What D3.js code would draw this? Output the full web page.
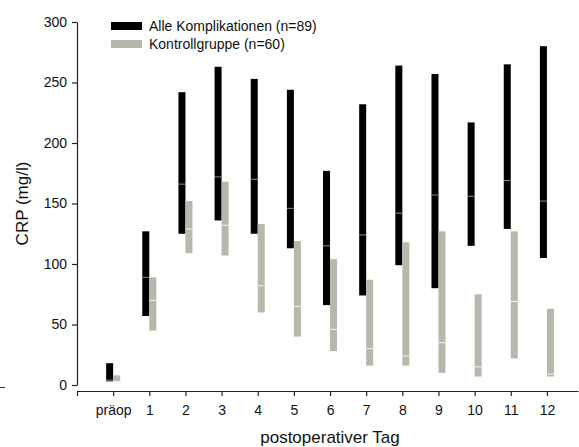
<!DOCTYPE html>
<html>
<head>
<meta charset="utf-8">
<script src="https://cdn.jsdelivr.net/npm/d3@7"></script>
<style>
  body { margin: 0; background: #fff; }
  svg { display: block; font-family: Arial, "Liberation Sans", sans-serif; }
</style>
</head>
<body>
<div id="chart"></div>
<script>
// days after surgery (index -1 is the empty tick at the axis start)
const days = ["präop", "1", "2", "3", "4", "5", "6", "7", "8", "9", "10", "11", "12"];

// Alle Komplikationen (n=89): min / median / max CRP
const komplMin = [3, 57, 125, 136, 125, 113, 66, 74, 99, 80, 115, 129, 105];
const komplMed = [4, 89, 166, 172, 170, 146, 115, 124, 142, 157, 156, 169, 152];
const komplMax = [18, 127, 242, 263, 253, 244, 177, 232, 264, 257, 217, 265, 280];

// Kontrollgruppe (n=60)
const kontrMin = [3, 45, 109, 107, 60, 40, 28, 16, 16, 10, 7, 22, 7];
const kontrMed = [3, 70, 129, 132, 82, 65, 46, 30, 24, 35, 15, 69, 9];
const kontrMax = [8, 89, 152, 168, 133, 119, 104, 87, 118, 127, 75, 127, 63];

const yTicks = [0, 50, 100, 150, 200, 250, 300];

const width = 579, height = 447;
const barW = 7;
const black = "#000000", grey = "#b7b8ab";

const svg = d3.select("#chart")
  .append("svg")
  .attr("width", width)
  .attr("height", height);

const x = d3.scaleLinear().domain([-1, 12.86]).range([77, 578]);
const y = d3.scaleLinear().domain([0, 300]).range([385, 22]);

// y axis
const yAxis = svg.append("g")
  .attr("transform", "translate(77,0)")
  .call(d3.axisLeft(y).tickValues(yTicks).tickSize(5).tickSizeOuter(0).tickPadding(5));

// x axis (separate from the y axis, a little lower)
const xAxis = svg.append("g")
  .attr("transform", "translate(0,391)")
  .call(d3.axisBottom(x)
    .tickValues(d3.range(-1, 13))
    .tickFormat(d => d < 0 ? "" : days[d])
    .tickSize(5).tickSizeOuter(0).tickPadding(9));

[yAxis, xAxis].forEach(g => {
  g.select(".domain").attr("stroke", "#222").attr("stroke-width", 1.2);
  g.selectAll(".tick line").attr("stroke", "#222").attr("stroke-width", 1.2);
  g.selectAll(".tick text")
    .attr("fill", "#111")
    .style("font-size", "14px")
    .style("font-family", "Arial, 'Liberation Sans', sans-serif");
});

// stray dash at the left edge
svg.append("line")
  .attr("x1", 0).attr("x2", 5)
  .attr("y1", 387.5).attr("y2", 387.5)
  .attr("stroke", "#333").attr("stroke-width", 1);

// axis titles
svg.append("text")
  .attr("transform", `translate(28,${(22 + 385) / 2}) rotate(-90)`)
  .attr("text-anchor", "middle")
  .style("font-size", "17px")
  .attr("fill", "#111")
  .text("CRP (mg/l)");

svg.append("text")
  .attr("x", 330)
  .attr("y", 443)
  .attr("text-anchor", "middle")
  .style("font-size", "17px")
  .attr("fill", "#111")
  .text("postoperativer Tag");

// range bars
const series = [
  { min: komplMin, med: komplMed, max: komplMax, fill: black, medCol: "#8a8a8a", dx: -barW },
  { min: kontrMin, med: kontrMed, max: kontrMax, fill: grey, medCol: "#f4f4f0", dx: 0 }
];

series.forEach(s => {
  const g = svg.append("g");
  const idx = d3.range(days.length);
  g.selectAll("rect")
    .data(idx)
    .enter()
    .append("rect")
    .attr("x", i => x(i) + s.dx)
    .attr("width", barW)
    .attr("y", i => y(s.max[i]))
    .attr("height", i => y(s.min[i]) - y(s.max[i]))
    .attr("fill", s.fill);
  g.selectAll("line")
    .data(idx)
    .enter()
    .append("line")
    .attr("x1", i => x(i) + s.dx)
    .attr("x2", i => x(i) + s.dx + barW)
    .attr("y1", i => y(s.med[i]))
    .attr("y2", i => y(s.med[i]))
    .attr("stroke", s.medCol)
    .attr("stroke-width", 1);
});

// legend
const legend = [
  { label: "Alle Komplikationen (n=89)", fill: black, y: 22 },
  { label: "Kontrollgruppe (n=60)", fill: grey, y: 40 }
];
const lg = svg.append("g");
lg.selectAll("rect")
  .data(legend)
  .enter()
  .append("rect")
  .attr("x", 111).attr("y", d => d.y)
  .attr("width", 31).attr("height", 8)
  .attr("fill", d => d.fill);
lg.selectAll("text")
  .data(legend)
  .enter()
  .append("text")
  .attr("x", 149).attr("y", d => d.y + 9)
  .style("font-size", "14px")
  .attr("fill", "#111")
  .text(d => d.label);
</script>
</body>
</html>
